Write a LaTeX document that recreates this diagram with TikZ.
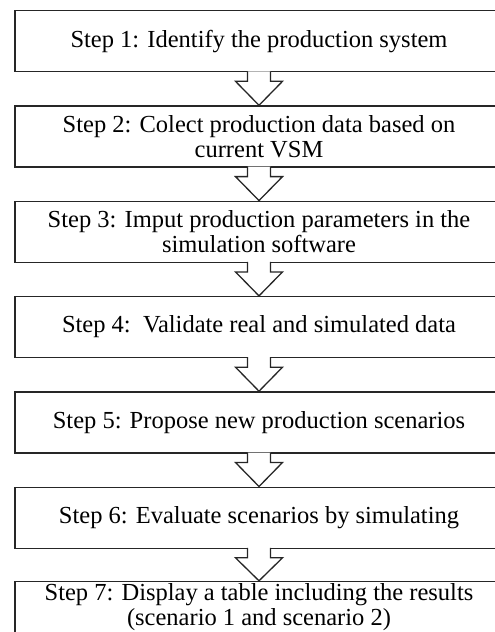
\documentclass[tikz,border=0pt]{standalone}
\usepackage{fontspec}
\setmainfont{Liberation Serif}
\usepackage{tikz}
\usetikzlibrary{positioning,calc}

\tikzset{
    stepbox/.style={draw=black!85, line width=1.3pt, minimum width=488pt, minimum height=61pt,
        inner sep=2pt, align=center, font=\fontsize{24.5}{25}\selectfont},
    blockarr/.style={draw=black!85, line width=1.3pt, fill=white, line join=miter}
}

\begin{document}
\begin{tikzpicture}[node distance=33pt]
    \useasboundingbox (0,0) rectangle (495pt,-632pt);
    \clip (0,0) rectangle (495pt,-632pt);
    % Steps
    \node[stepbox, anchor=north] (s1) at (259pt,-10pt) {Step 1: Identify the production system};
    \node[stepbox, below=of s1] (s2) {Step 2: Colect production data based on\\current VSM};
    \node[stepbox, below=of s2] (s3) {Step 3: Imput production parameters in the\\simulation software};
    \node[stepbox, below=of s3] (s4) {Step 4:\ \ Validate real and simulated data};
    \node[stepbox, below=of s4] (s5) {Step 5: Propose new production scenarios};
    \node[stepbox, below=of s5] (s6) {Step 6: Evaluate scenarios by simulating};
    \node[stepbox, below=32pt of s6, text depth=20pt] (s7) {Step 7: Display a table including the results\\(scenario 1 and scenario 2)};
    % Block arrows between steps
    \foreach \a/\b in {s1/s2, s2/s3, s3/s4, s4/s5, s5/s6, s6/s7}
        \draw[blockarr] ($(\a.south)+(-11.5pt,1pt)$) -- ++(0,-10pt) -- ++(-12pt,0) -- (\b.north)
            -- ($(\a.south)+(23.5pt,-9pt)$) -- ++(-12pt,0) -- ++(0,10pt);
\end{tikzpicture}
\end{document}
